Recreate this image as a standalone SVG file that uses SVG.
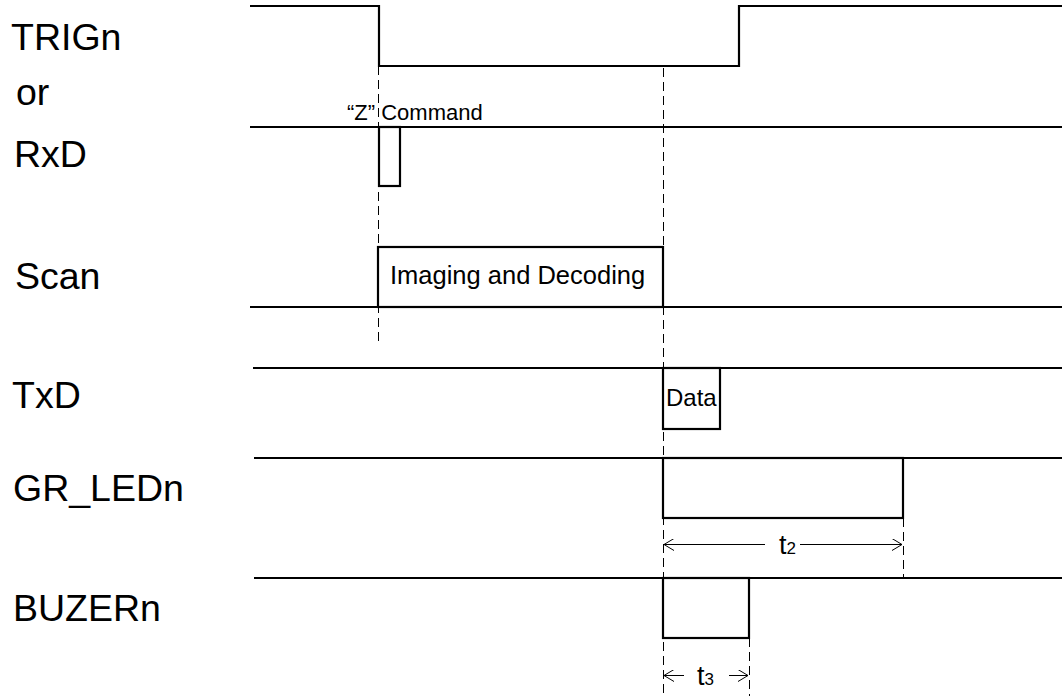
<svg xmlns="http://www.w3.org/2000/svg" width="1062" height="696" viewBox="0 0 1062 696">
<defs>
<style>
.sig{fill:none;stroke:#000;stroke-width:2.2}
.dash{fill:none;stroke:#000;stroke-width:1;stroke-dasharray:9,5}
.dim{fill:none;stroke:#000;stroke-width:1}
.lbl{font-family:"Liberation Sans",Arial,sans-serif;font-size:37.5px;fill:#000}
.sm{font-family:"Liberation Sans",Arial,sans-serif;font-size:24px;fill:#000}
.cmd{font-family:"Liberation Sans",Arial,sans-serif;font-size:22px;fill:#000}
.t{font-family:"Liberation Sans",Arial,sans-serif;font-size:27px;fill:#000}
</style>
<marker id="ah" viewBox="0 0 10 12" refX="10" refY="6" markerWidth="10" markerHeight="12" markerUnits="userSpaceOnUse" orient="auto-start-reverse">
<path d="M0,0 L10,6 L0,12" fill="none" stroke="#000" stroke-width="1"/>
</marker>
</defs>
<rect width="1062" height="696" fill="#fff"/>
<g id="connectors">
<line class="dash" x1="378.5" y1="66" x2="378.5" y2="342"/>
<line class="dash" x1="663.5" y1="68" x2="663.5" y2="696"/>
<line class="dash" x1="903.5" y1="518" x2="903.5" y2="578"/>
<line class="dash" x1="749.5" y1="638" x2="749.5" y2="696"/>
<line class="dim" x1="664" y1="544.5" x2="765" y2="544.5" marker-start="url(#ah)"/>
<line class="dim" x1="800" y1="544.5" x2="902" y2="544.5" marker-end="url(#ah)"/>
<line class="dim" x1="664" y1="675.5" x2="684" y2="675.5" marker-start="url(#ah)"/>
<line class="dim" x1="729" y1="675.5" x2="748" y2="675.5" marker-end="url(#ah)"/>
</g>
<g id="trign">
<text class="lbl" x="11" y="50">TRIGn</text>
<text class="lbl" x="16" y="105">or</text>
<polyline class="sig" points="250,6 379,6 379,66 739,66 739,6 1062,6"/>
</g>
<g id="rxd">
<text class="lbl" x="14" y="167">RxD</text>
<line class="sig" x1="250" y1="127" x2="1062" y2="127"/>
<rect class="sig" x="379" y="127" width="21" height="59"/>
<text class="cmd" x="347" y="120">“Z” Command</text>
</g>
<g id="scan">
<text class="lbl" x="15" y="289">Scan</text>
<line class="sig" x1="250" y1="307" x2="1062" y2="307"/>
<rect class="sig" x="378" y="247" width="285" height="60"/>
<text class="sm" x="390" y="284" style="font-size:25.5px">Imaging and Decoding</text>
</g>
<g id="txd">
<text class="lbl" x="12" y="408">TxD</text>
<line class="sig" x1="253" y1="368" x2="1062" y2="368"/>
<rect class="sig" x="663" y="368" width="57" height="61"/>
<text class="sm" x="666" y="406">Data</text>
</g>
<g id="gr_ledn">
<text class="lbl" x="13" y="501">GR_LEDn</text>
<line class="sig" x1="254" y1="458" x2="1062" y2="458"/>
<rect class="sig" x="663" y="458" width="240" height="60"/>
</g>
<g id="buzern">
<text class="lbl" x="13" y="621">BUZERn</text>
<line class="sig" x1="254" y1="578" x2="1062" y2="578"/>
<rect class="sig" x="663" y="578" width="86" height="60"/>
</g>
<g id="t2">
<text class="t" x="779" y="554">t<tspan font-size="17">2</tspan></text>
</g>
<g id="t3">
<text class="t" x="697" y="685">t<tspan font-size="17">3</tspan></text>
</g>
</svg>
